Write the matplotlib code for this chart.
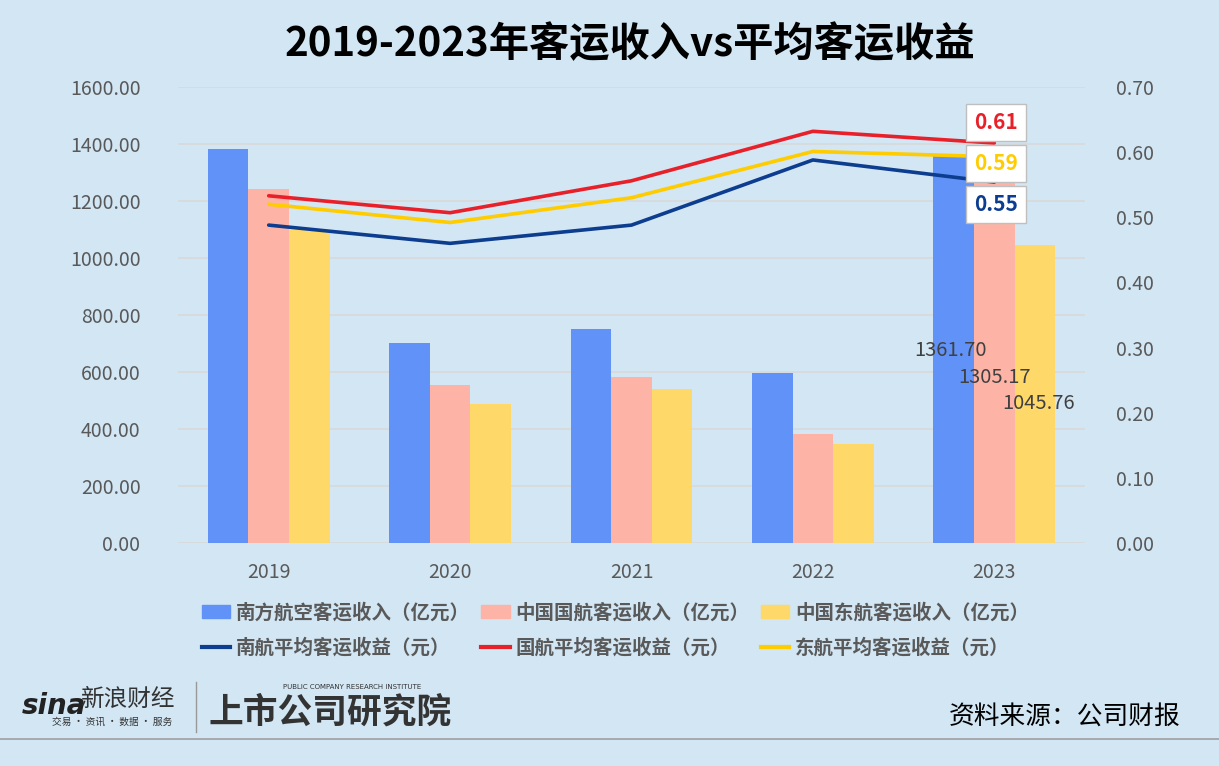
import numpy as np
import matplotlib
matplotlib.use('Agg')
import matplotlib.pyplot as plt
from matplotlib.patches import Patch
from matplotlib.lines import Line2D

plt.rcParams['font.family'] = ['Noto Sans CJK SC', 'DejaVu Sans']

# data
years = ['2019', '2020', '2021', '2022', '2023']
csa_rev = [1382, 702, 751, 596, 1361.70]        # 南方航空客运收入（亿元）
airchina_rev = [1242, 554, 582, 382, 1305.17]   # 中国国航客运收入（亿元）
cea_rev = [1098, 488, 540, 347, 1045.76]        # 中国东航客运收入（亿元）
csa_yield = [0.488, 0.460, 0.488, 0.588, 0.554]
airchina_yield = [0.533, 0.507, 0.556, 0.632, 0.614]
cea_yield = [0.520, 0.492, 0.530, 0.601, 0.593]
last_yield_labels = ['0.61', '0.59', '0.55']

bg = '#D2E6F4'
c_blue, c_pink, c_yel = '#6092F7', '#FDB4A6', '#FED96A'
c_navy, c_red, c_gold = '#0D3D8F', '#E8202A', '#FFCC00'
txt_gray = '#595959'

W, H = 1219, 766
fig = plt.figure(figsize=(W / 100, H / 100), dpi=100, facecolor=bg)

def fx(px):
    return px / W

def fy(py):
    return 1 - py / H

ax = fig.add_axes([fx(178), fy(543), fx(1085 - 178), (543 - 87) / H])
ax.set_facecolor('none')
x = np.arange(len(years))
bw = 0.224

ax.bar(x - bw, csa_rev, bw, color=c_blue, zorder=2)
ax.bar(x, airchina_rev, bw, color=c_pink, zorder=2)
ax.bar(x + bw, cea_rev, bw, color=c_yel, zorder=2)

ax.set_xlim(-0.5, len(years) - 0.5)
ax.set_ylim(0, 1600)
ax.set_yticks(np.arange(0, 1601, 200))
ax.set_yticklabels([f'{v:.2f}' for v in np.arange(0, 1601, 200)])
ax.set_xticks(x)
ax.set_xticklabels(years)
ax.grid(axis='y', color='#D9D9D9', linewidth=1.2, zorder=0)
ax.set_axisbelow(True)
for s in ax.spines.values():
    s.set_visible(False)
ax.tick_params(axis='both', length=0, labelsize=14, colors=txt_gray)
ax.tick_params(axis='y', pad=27)
ax.tick_params(axis='x', pad=14)

# last year value labels
last = len(years) - 1
ax.text(last - bw - 0.02, 677, f'{csa_rev[last]:.2f}', ha='center', va='center', fontsize=14.5, color='#404040', zorder=5)
ax.text(last, 582, f'{airchina_rev[last]:.2f}', ha='center', va='center', fontsize=14.5, color='#404040', zorder=5)
ax.text(last + bw + 0.02, 488, f'{cea_rev[last]:.2f}', ha='center', va='center', fontsize=14.5, color='#404040', zorder=5)

ax2 = ax.twinx()
ax2.set_ylim(0, 0.7)
ax2.set_yticks(np.arange(0, 0.71, 0.1))
ax2.set_yticklabels([f'{v:.2f}' for v in np.arange(0, 0.71, 0.1)])
for s in ax2.spines.values():
    s.set_visible(False)
ax2.tick_params(axis='y', length=0, labelsize=14, colors=txt_gray, pad=22)

ax2.plot(x, csa_yield, color=c_navy, lw=2.6, solid_capstyle='round')
ax2.plot(x, airchina_yield, color=c_red, lw=2.6, solid_capstyle='round')
ax2.plot(x, cea_yield, color=c_gold, lw=2.6, solid_capstyle='round')

box = dict(boxstyle='square,pad=0.38', facecolor='white', edgecolor='#BFBFBF', linewidth=1)
for lab, yv, col in zip(last_yield_labels, [0.646, 0.583, 0.519], [c_red, c_gold, c_navy]):
    ax2.text(last + 0.01, yv, lab, ha='center', va='center', fontsize=15, fontweight='bold',
             color=col, bbox=box, zorder=6)

# title
fig.text(fx(630), fy(45), '2019-2023年客运收入vs平均客运收益', ha='center', va='center',
         fontsize=29, fontweight='bold', color='black')

# legend (column-major order)
handles = [Patch(color=c_blue), Line2D([], [], color=c_navy, lw=3),
           Patch(color=c_pink), Line2D([], [], color=c_red, lw=3),
           Patch(color=c_yel), Line2D([], [], color=c_gold, lw=3)]
labels = ['南方航空客运收入（亿元）', '南航平均客运收益（元）',
          '中国国航客运收入（亿元）', '国航平均客运收益（元）',
          '中国东航客运收入（亿元）', '东航平均客运收益（元）']
leg = fig.legend(handles, labels, ncol=3, loc='upper left', bbox_to_anchor=(fx(192), fy(593)),
                 frameon=False, borderpad=0, handlelength=1.45, handleheight=0.7,
                 handletextpad=0.3, columnspacing=0.6, labelspacing=0.8,
                 prop={'size': 14, 'weight': 'bold'})
for t in leg.get_texts():
    t.set_color(txt_gray)

# footer logos as text
fig.text(fx(22), fy(706), 'sina', fontsize=20, fontweight='bold', style='italic', color='#222222',
         ha='left', va='center', family='DejaVu Sans')
fig.text(fx(80), fy(699), '新浪财经', fontsize=17, color='#333333', ha='left', va='center')
fig.text(fx(112), fy(722), '交易 · 资讯 · 数据 · 服务', fontsize=7, color='#333333', ha='center', va='center')
fig.add_artist(Line2D([fx(196), fx(196)], [fy(682), fy(732)], color='#999999', lw=1))
fig.text(fx(208), fy(712), '上市公司研究院', fontsize=25, fontweight='bold', style='italic',
         color='#333333', ha='left', va='center')
fig.text(fx(283), fy(687), 'PUBLIC COMPANY RESEARCH INSTITUTE', fontsize=5, color='#333333',
         ha='left', va='center', family='DejaVu Sans')
fig.text(fx(1180), fy(717), '资料来源：公司财报', fontsize=18.5, color='black', ha='right', va='center')
fig.add_artist(Line2D([0, 1], [fy(739), fy(739)], color='#A0A0A0', lw=1.2))

fig.savefig('out.png', dpi=100, facecolor=bg)
